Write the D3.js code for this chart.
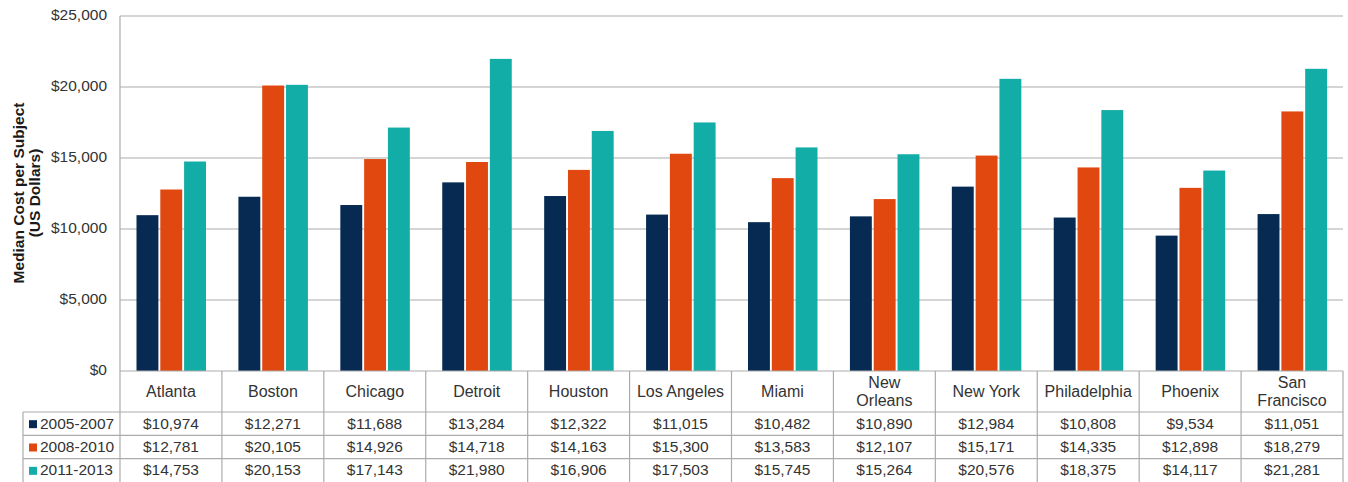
<!DOCTYPE html>
<html>
<head>
<meta charset="utf-8">
<script src="https://cdn.jsdelivr.net/npm/d3@7"></script>
<style>
  body { margin: 0; background: #fff; }
  text { font-family: "Liberation Sans", Arial, sans-serif; }
</style>
</head>
<body>
<div id="chart"></div>
<script>
// data
const cities = ["Atlanta", "Boston", "Chicago", "Detroit", "Houston", "Los Angeles",
                "Miami", "New Orleans", "New York", "Philadelphia", "Phoenix", "San Francisco"];
const cityLines = [["Atlanta"], ["Boston"], ["Chicago"], ["Detroit"], ["Houston"], ["Los Angeles"],
                   ["Miami"], ["New", "Orleans"], ["New York"], ["Philadelphia"], ["Phoenix"], ["San", "Francisco"]];
const periods = ["2005-2007", "2008-2010", "2011-2013"];
const colors = ["#062a52", "#e0480f", "#12ada7"];
const cost0507 = [10974, 12271, 11688, 13284, 12322, 11015, 10482, 10890, 12984, 10808, 9534, 11051];
const cost0810 = [12781, 20105, 14926, 14718, 14163, 15300, 13583, 12107, 15171, 14335, 12898, 18279];
const cost1113 = [14753, 20153, 17143, 21980, 16906, 17503, 15745, 15264, 20576, 18375, 14117, 21281];
const yTicks = [0, 5000, 10000, 15000, 20000, 25000];
const series = [cost0507, cost0810, cost1113];

const width = 1348, height = 482;
const plotLeft = 120, plotRight = 1343, plotTop = 16, plotBottom = 371;
const tableLeft = 23, catRowBottom = 412, rowH = 23.33;
const gridColor = "#ababab";
const textColor = "#333";

const svg = d3.select("#chart").append("svg")
    .attr("width", width)
    .attr("height", height);

const x0 = d3.scaleBand().domain(cities).range([plotLeft, plotRight]).padding(0);
const x1 = d3.scaleBand().domain(periods).range([16.5, 86]).paddingInner(0.08);
const y = d3.scaleLinear().domain([0, 25000]).range([plotBottom, plotTop]);

const fmt = d3.format("$,");

// gridlines
svg.append("g").selectAll("line")
    .data(yTicks.filter(d => d > 0))
    .enter().append("line")
    .attr("x1", plotLeft).attr("x2", plotRight)
    .attr("y1", d => y(d)).attr("y2", d => y(d))
    .style("stroke", gridColor).style("stroke-width", 1.2);

// y axis line
svg.append("line")
    .attr("x1", plotLeft).attr("x2", plotLeft)
    .attr("y1", plotTop).attr("y2", plotBottom)
    .style("stroke", gridColor).style("stroke-width", 1.2);

// y tick labels
svg.append("g").selectAll("text")
    .data(yTicks)
    .enter().append("text")
    .attr("x", 107)
    .attr("y", d => y(d))
    .attr("text-anchor", "end")
    .attr("dominant-baseline", "middle")
    .style("font-size", "15.5px")
    .style("fill", textColor)
    .text(d => fmt(d));

// y axis title
const yTitle = svg.append("text")
    .attr("transform", "translate(0,193) rotate(-90)")
    .attr("text-anchor", "middle")
    .style("font-size", "15.5px")
    .style("font-weight", "bold")
    .style("fill", "#1a1a1a");
yTitle.append("tspan").attr("x", 0).attr("y", 23.5).text("Median Cost per Subject");
yTitle.append("tspan").attr("x", 0).attr("y", 39.5).text("(US Dollars)");

// bars
const groups = svg.append("g").selectAll("g")
    .data(cities)
    .enter().append("g")
    .attr("transform", d => `translate(${x0(d)},0)`);

groups.selectAll("rect")
    .data((c, i) => periods.map((p, j) => ({ period: p, value: series[j][i], color: colors[j] })))
    .enter().append("rect")
    .attr("x", d => x1(d.period))
    .attr("width", x1.bandwidth())
    .attr("y", d => y(d.value))
    .attr("height", d => plotBottom - y(d.value))
    .style("fill", d => d.color);

// data table
const table = svg.append("g");

// horizontal lines
table.append("line")
    .attr("x1", plotLeft).attr("x2", plotRight)
    .attr("y1", plotBottom).attr("y2", plotBottom)
    .style("stroke", gridColor).style("stroke-width", 1.2);
[0, 1, 2].forEach(r => {
    table.append("line")
        .attr("x1", tableLeft).attr("x2", plotRight)
        .attr("y1", catRowBottom + r * rowH).attr("y2", catRowBottom + r * rowH)
        .style("stroke", gridColor).style("stroke-width", 1.2);
});

// vertical lines
cities.forEach(c => {
    table.append("line")
        .attr("x1", x0(c)).attr("x2", x0(c))
        .attr("y1", plotBottom).attr("y2", height)
        .style("stroke", gridColor).style("stroke-width", 1.2);
});
table.append("line")
    .attr("x1", plotRight).attr("x2", plotRight)
    .attr("y1", plotBottom).attr("y2", height)
    .style("stroke", gridColor).style("stroke-width", 1.2);
table.append("line")
    .attr("x1", tableLeft).attr("x2", tableLeft)
    .attr("y1", catRowBottom).attr("y2", height)
    .style("stroke", gridColor).style("stroke-width", 1.2);

// category labels
cities.forEach((c, i) => {
    const lines = cityLines[i];
    const cy = (plotBottom + catRowBottom) / 2 + 1;
    const t = table.append("text")
        .attr("text-anchor", "middle")
        .style("font-size", "16px")
        .style("fill", textColor);
    lines.forEach((ln, k) => {
        t.append("tspan")
            .attr("x", x0(c) + x0.bandwidth() / 2)
            .attr("y", cy + (k - (lines.length - 1) / 2) * 18)
            .attr("dominant-baseline", "middle")
            .text(ln);
    });
});

// legend column + values
periods.forEach((p, j) => {
    const cy = catRowBottom + (j + 0.5) * rowH + 1;
    table.append("rect")
        .attr("x", 29).attr("y", cy - 4.5)
        .attr("width", 8).attr("height", 8)
        .style("fill", colors[j]);
    table.append("text")
        .attr("x", 40).attr("y", cy)
        .attr("dominant-baseline", "middle")
        .style("font-size", "15.5px")
        .style("fill", textColor)
        .text(p);
    cities.forEach((c, i) => {
        table.append("text")
            .attr("x", x0(c) + x0.bandwidth() / 2)
            .attr("y", cy)
            .attr("text-anchor", "middle")
            .attr("dominant-baseline", "middle")
            .style("font-size", "15.5px")
            .style("fill", textColor)
            .text(fmt(series[j][i]));
    });
});
</script>
</body>
</html>
